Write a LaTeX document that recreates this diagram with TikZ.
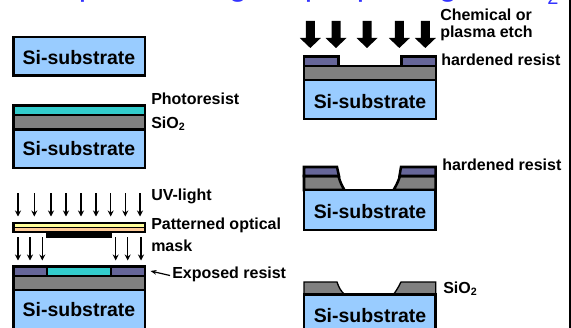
\documentclass[tikz,border=0pt]{standalone}
\usepackage{fontspec}
\setmainfont{Liberation Sans}
\tikzset{
    si/.style={draw=black,line width=1.9pt,fill=siblue},
    oxide/.style={draw=black,line width=1.9pt,fill=oxidegray},
    resist/.style={draw=black,line width=1.9pt,fill=resistcyan},
    hardened/.style={draw=black,line width=1.9pt,fill=hardpurple},
    sitext/.style={font=\fontsize{14.6}{15}\selectfont\bfseries,inner sep=0pt},
    lbl/.style={font=\fontsize{12}{12}\selectfont\bfseries,anchor=west,inner sep=0pt},
    titlepart/.style={font=\fontsize{24.75}{24.75}\selectfont,text=titleblue,anchor=base,inner sep=0pt},
    uvarrow/.style={line width=0.9pt,-{Stealth[length=4.5pt,width=4.5pt]}},
    etcharrow/.style={draw=none,fill=black},
}
\definecolor{siblue}{HTML}{99CCFF}
\definecolor{oxidegray}{HTML}{808080}
\definecolor{resistcyan}{HTML}{33CCCC}
\definecolor{hardpurple}{HTML}{666699}
\definecolor{maskyellow}{HTML}{FFFF99}
\definecolor{maskpeach}{HTML}{FFCC99}
\definecolor{titleblue}{HTML}{3333FF}
\usetikzlibrary{arrows.meta}
\begin{document}
\begin{tikzpicture}[x=0.75pt,y=-0.75pt]
    \useasboundingbox (0,0) rectangle (571,328);
    \clip (0,0) rectangle (571,328);
    %% title, cut off by the top edge
    \node[titlepart] (titleA) at (88,-4) {p};
    \node[titlepart] (titleB) at (238,-4) {g};
    \node[titlepart] (titleC) at (314,-4) {p};
    \node[titlepart] (titleD) at (322,-4) {,};
    \node[titlepart] (titleE) at (366,-4) {p};
    \node[titlepart] (titleF) at (448,-4) {g};
    \node[titlepart,font=\fontsize{15}{15}\selectfont] (titleG) at (553,4.5) {2};
    \draw[line width=1.6pt] (569.6,0) -- (569.6,328);
    %% wafer 1
    \draw[si] (13.5,37) rectangle (145,75.5);
    \node[sitext] (si1) at (79,57.5) {Si-substrate};
    %% wafer 2
    \draw[resist] (13.5,105.5) rectangle (145,115);
    \draw[oxide] (13.5,115) rectangle (145,129.5);
    \draw[si] (13.5,129.5) rectangle (145,168);
    \node[sitext] (si2) at (79,149) {Si-substrate};
    \node[lbl] (photo) at (151,98.7) {Photoresist};
    \node[lbl] (oxide2) at (151,124) {SiO\textsubscript{2}};
    %% UV light and mask
    \foreach \x in {18,34.3,51,66,81,96,110.7,125.3,140} {
        \draw[uvarrow] (\x,193) -- (\x,216.5);
    }
    \draw[draw=black,line width=1.9pt,fill=maskyellow] (13.5,223) rectangle (145,231.5);
    \fill[maskpeach] (14.5,227.5) rectangle (144,230.5);
    \draw[line width=0.6pt] (14.5,227.2) -- (144,227.2);
    \fill[black] (46,231) rectangle (112,237.7);
    \foreach \x in {18,30,42.3,115.7,127.7,141} {
        \draw[uvarrow] (\x,237) -- (\x,260.5);
    }
    \node[lbl] (uv) at (151,196.7) {UV-light};
    \node[lbl] (pattern) at (151,225.7) {Patterned optical};
    \node[lbl] (mask) at (151,245.7) {mask};
    %% wafer 3
    \draw[hardened] (13.5,266.5) rectangle (47,276);
    \draw[hardened] (111,266.5) rectangle (145,276);
    \draw[resist] (47,266.5) rectangle (111,276);
    \draw[oxide] (13.5,276) rectangle (145,290);
    \draw[si] (13.5,290) rectangle (145,329);
    \node[sitext] (si3) at (79,310) {Si-substrate};
    \node[lbl] (exposed) at (172,274) {Exposed resist};
    \coordinate (exposedtip) at (150.5,271);
    \draw[line width=0.9pt,-{Stealth[length=4.5pt,width=3.5pt]}] (exposed.west) ++(-2,1.5) -- (exposedtip);
    %% etch arrows
    \foreach \x in {310.3,336,367,399.3,425.3} {
        \fill[etcharrow] (\x-4.5,21) -- (\x+4.5,21) -- (\x+4.5,38) -- (\x+10.5,38)
            -- (\x,48) -- (\x-10.5,38) -- (\x-4.5,38) -- cycle;
    }
    \node[lbl] (chem) at (440,15) {Chemical or};
    \node[lbl] (plasma) at (440,33.5) {plasma etch};
    %% wafer 4
    \draw[hardened] (304,56.5) rectangle (338.5,66);
    \draw[hardened] (401.5,56.5) rectangle (436,66);
    \draw[oxide] (304,66) rectangle (436,80);
    \draw[si] (304,80) rectangle (436,119);
    \node[sitext] (si4) at (370,101.7) {Si-substrate};
    \node[lbl] (hard1) at (441,59.5) {hardened resist};
    %% wafer 5
    \draw[oxide] (304,176) -- (338.5,176) .. controls (340,182) and (342,186) .. (344.5,190) -- (304,190) -- cycle;
    \draw[oxide] (435.7,176) -- (400,176) .. controls (398,182) and (396,186) .. (393.5,190) -- (435.7,190) -- cycle;
    \draw[hardened] (304,167) -- (337,167) -- (339,176) -- (304,176) -- cycle;
    \draw[hardened] (435.7,167) -- (401,167) -- (399.5,176) -- (435.7,176) -- cycle;
    \draw[si] (304,190) rectangle (435.7,230);
    \node[sitext] (si5) at (370,211.7) {Si-substrate};
    \node[lbl] (hard2) at (442,164.3) {hardened resist};
    %% wafer 6
    \draw[oxide,line width=1pt] (304,282) -- (337,282) .. controls (339,288) and (341,291) .. (344.5,294.5)
        -- (304,294.5) -- cycle;
    \draw[oxide,line width=1pt] (435.7,282) -- (401,282) .. controls (398,288) and (396,291) .. (393.5,294.5)
        -- (435.7,294.5) -- cycle;
    \draw[si] (304,294.5) rectangle (435.7,334);
    \node[sitext] (si6) at (370,315.7) {Si-substrate};
    \node[lbl] (oxide6) at (443,289) {SiO\textsubscript{2}};
\end{tikzpicture}
\end{document}
